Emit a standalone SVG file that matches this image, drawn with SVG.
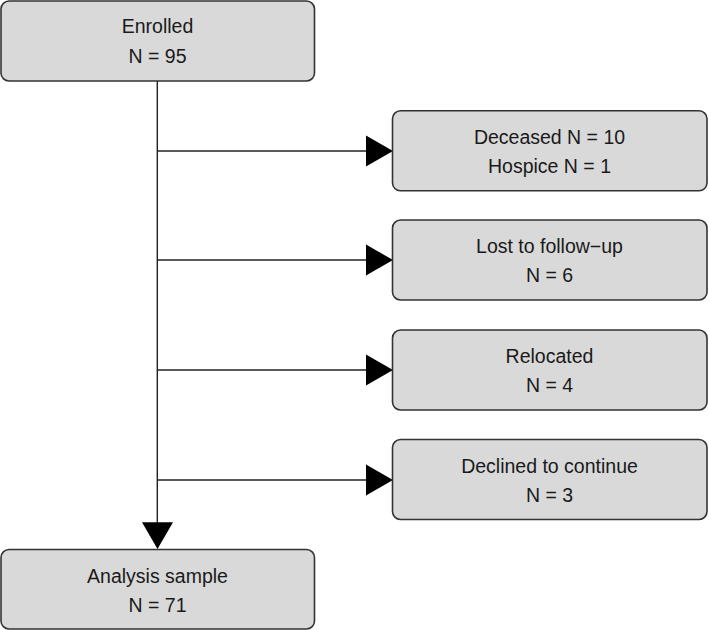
<svg xmlns="http://www.w3.org/2000/svg" width="709" height="630" viewBox="0 0 709 630">
  <style>
    .box { fill: #d9d9d9; stroke: #333333; stroke-width: 1.6; }
    .txt { font-family: "Liberation Sans", Arial, Helvetica, sans-serif; font-size: 19.5px; fill: #1a1a1a; text-anchor: middle; }
    .line { stroke: #222222; stroke-width: 1.4; fill: none; }
    .head { fill: #000000; stroke: none; }
  </style>
  <rect width="709" height="630" fill="#ffffff"/>
  <g id="connectors">
    <line class="line" x1="157.3" y1="81" x2="157.3" y2="524"/>
    <line class="line" x1="157.3" y1="151" x2="368" y2="151"/>
    <line class="line" x1="157.3" y1="260" x2="368" y2="260"/>
    <line class="line" x1="157.3" y1="370" x2="368" y2="370"/>
    <line class="line" x1="157.3" y1="480" x2="368" y2="480"/>
    <polygon class="head" points="366,135.5 393,151 366,166.5"/>
    <polygon class="head" points="366,244.5 393,260 366,275.5"/>
    <polygon class="head" points="366,354.5 393,370 366,385.5"/>
    <polygon class="head" points="366,464.5 393,480 366,495.5"/>
    <polygon class="head" points="142,522.3 173,522.3 157.5,549"/>
  </g>
  <g id="enrolled">
    <rect class="box" x="1" y="1" width="313.5" height="80" rx="8"/>
    <text class="txt" x="157.5" y="33">Enrolled</text>
    <text class="txt" x="157.5" y="63">N = 95</text>
  </g>
  <g id="deceased">
    <rect class="box" x="392.5" y="110.8" width="314.5" height="80" rx="8"/>
    <text class="txt" x="549.5" y="144">Deceased N = 10</text>
    <text class="txt" x="549.5" y="173">Hospice N = 1</text>
  </g>
  <g id="lost">
    <rect class="box" x="392.5" y="220" width="314.5" height="80" rx="8"/>
    <text class="txt" x="549.5" y="253">Lost to follow−up</text>
    <text class="txt" x="549.5" y="282">N = 6</text>
  </g>
  <g id="relocated">
    <rect class="box" x="392.5" y="330" width="314.5" height="80" rx="8"/>
    <text class="txt" x="549.5" y="363">Relocated</text>
    <text class="txt" x="549.5" y="392">N = 4</text>
  </g>
  <g id="declined">
    <rect class="box" x="392.5" y="439.5" width="314.5" height="80" rx="8"/>
    <text class="txt" x="549.5" y="472.5">Declined to continue</text>
    <text class="txt" x="549.5" y="501.5">N = 3</text>
  </g>
  <g id="analysis">
    <rect class="box" x="1" y="549.5" width="313.5" height="79.5" rx="8"/>
    <text class="txt" x="157.5" y="582.5">Analysis sample</text>
    <text class="txt" x="157.5" y="612">N = 71</text>
  </g>
</svg>
